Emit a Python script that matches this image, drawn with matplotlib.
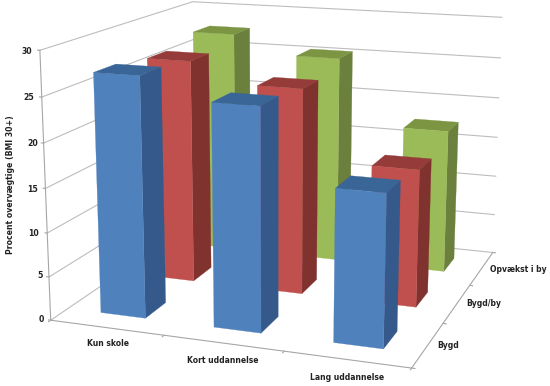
import matplotlib
matplotlib.use("Agg")
import matplotlib.pyplot as plt
from mpl_toolkits.mplot3d.art3d import Poly3DCollection

education = ["Kun skole", "Kort uddannelse", "Lang uddannelse"]
upbringing = ["Bygd", "Bygd/by", "Opvækst i by"]
bygd = [27.2, 24.9, 16.85]
bygd_by = [26.5, 24.2, 16.0]
opvaekst_by = [27.6, 25.4, 17.45]
series = [bygd, bygd_by, opvaekst_by]
z_ticks = [0, 5, 10, 15, 20, 25, 30]
y_title = "Procent overvægtige (BMI 30+)"

front_colors = ["#4F81BD", "#C0504D", "#9BBB59"]
side_colors = ["#35598A", "#80322F", "#6B803D"]
top_colors = ["#3A6597", "#953B39", "#7B9542"]
GRID = "#BDBDBD"
AXIS = "#A6A6A6"
TEXT = "#222222"

W, H = 550, 386
S, CX, CY = 2945.9, 287.84, 161.0
L = S * 0.185
fig = plt.figure(figsize=(W / 100, H / 100), dpi=100)
ax = fig.add_axes([(CX - 0.095 * S) / W, (H - CY - 0.095 * S) / H, L / W, L / H],
                  projection="3d", computed_zorder=False)
ax.set_xlim(0, 3)
ax.set_ylim(0, 3)
ax.set_zlim(0, 30)
ax.set_proj_type("persp", focal_length=0.485)
ax.view_init(elev=13.967, azim=-70.648, roll=-0.133)
ax.set_box_aspect((1.362, 1.359, 1.0))
ax.set_axis_off()

# walls
for z in z_ticks:
    ax.plot([0, 0, 3], [0, 3, 3], [z, z, z], color=GRID, lw=0.8, zorder=1)
    ax.plot([-0.02, 0], [0, 0], [z, z], color=AXIS, lw=0.8, zorder=1)
ax.plot([0, 0], [0, 0], [0, 30], color=AXIS, lw=0.8, zorder=1)
ax.plot([0, 3, 3], [0, 0, 3], [0, 0, 0], color=AXIS, lw=0.8, zorder=1)
for i in range(4):
    ax.plot([i, i], [0, -0.035], [0, 0], color=AXIS, lw=0.8, zorder=1)
    ax.plot([3, 3.025], [i, i], [0, 0], color=AXIS, lw=0.8, zorder=1)

# bars, back row first, then left to right
G0, G1 = 0.3, 0.7
order = 2
for j in (2, 1, 0):
    for i in range(3):
        h = series[j][i]
        x0, x1, y0, y1 = i + G0, i + G1, j + G0, j + G1
        faces = [[(x0, y0, 0), (x1, y0, 0), (x1, y0, h), (x0, y0, h)],
                 [(x1, y0, 0), (x1, y1, 0), (x1, y1, h), (x1, y0, h)],
                 [(x0, y0, h), (x1, y0, h), (x1, y1, h), (x0, y1, h)]]
        cols = [front_colors[j], side_colors[j], top_colors[j]]
        ax.add_collection3d(Poly3DCollection(faces, facecolors=cols, edgecolors=cols,
                                             linewidths=0.2, zorder=order))
        order += 1

def px_text(x, y, s, **kw):
    fig.text(x / W, 1 - y / H, s, ha="center", va="center", weight="bold", color=TEXT, **kw)

tick_px = [(41, 320), (40, 276), (34, 233), (33, 189), (33, 143), (29, 97), (27, 51)]
for z, (x, y) in zip(z_ticks, tick_px):
    px_text(x, y, str(z), fontsize=5.6)
for t, (x, y) in zip(education, [(108, 343), (223, 360.5), (347, 377)]):
    px_text(x, y, t, fontsize=5.5)
for t, (x, y) in zip(upbringing, [(448, 345), (484, 304), (518, 269)]):
    px_text(x, y, t, fontsize=5.5)
px_text(11, 185, y_title, rotation=90, fontsize=5.6)

fig.savefig("out.png", dpi=100)
